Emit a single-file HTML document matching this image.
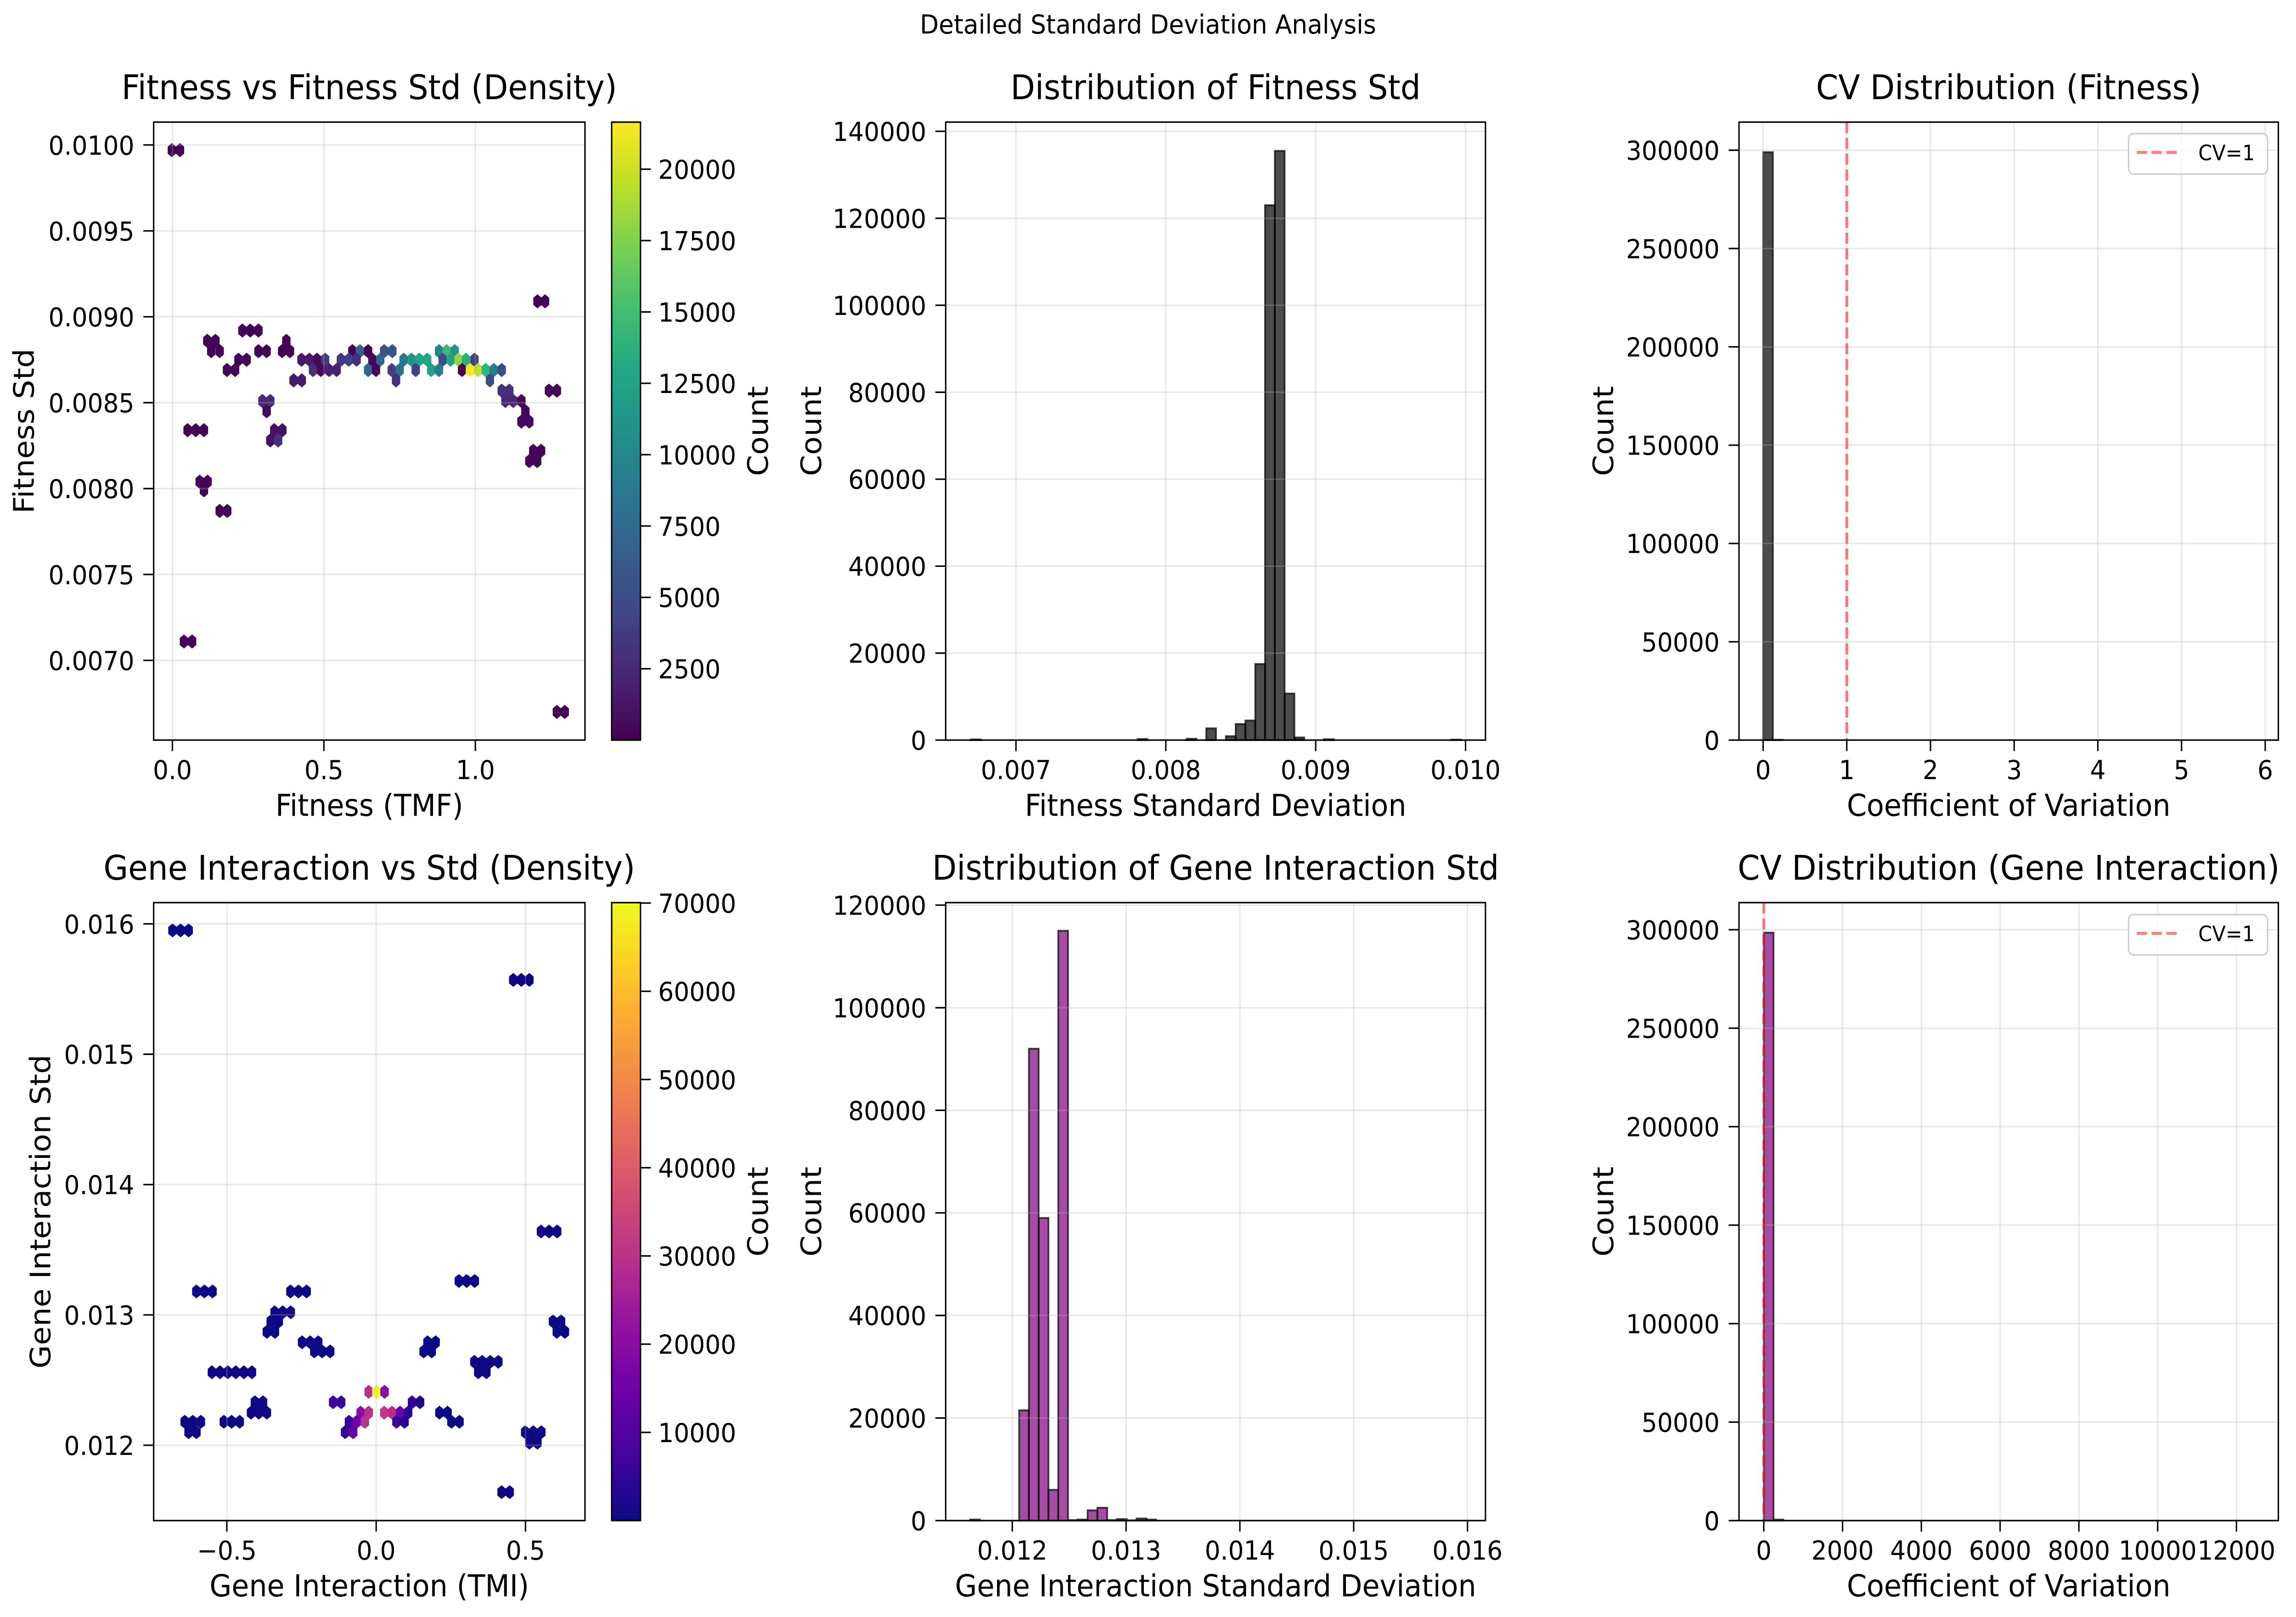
<!DOCTYPE html>
<html><head><meta charset="utf-8"><title>Detailed Standard Deviation Analysis</title>
<style>html,body{margin:0;padding:0;background:#fff;overflow:hidden;width:100%;height:100%}svg{display:block;width:100vw;height:100vh}text{font-family:"DejaVu Sans","Liberation Sans",sans-serif;fill:#000}</style>
</head><body>
<svg id="fig" xmlns="http://www.w3.org/2000/svg" viewBox="0 0 5334 3522" preserveAspectRatio="none">
<rect x="0" y="0" width="5334" height="3522" fill="#fff"/>
<text x="2667" y="73" font-size="57" text-anchor="middle">Detailed Standard Deviation Analysis</text>
<defs>
<linearGradient id="gViridis" x1="0" y1="1" x2="0" y2="0"></linearGradient>
<linearGradient id="gPlasma" x1="0" y1="1" x2="0" y2="0"></linearGradient>
</defs>
</svg>
<script>
// ---------- DATA ----------
// Panel 1: hexbin Fitness vs Fitness Std
const fitHexX = [-0.002,0.025, 1.205,1.230, 0.231,0.257,0.284, 0.115,0.142,0.376,
 0.128,0.156,0.284,0.311,0.362,0.388,0.594,0.619,0.646,0.699,0.726,0.880,0.905,0.932,
 0.218,0.245,0.426,0.452,0.477,0.504,0.556,0.582,0.608,0.660,0.686,0.763,0.789,0.815,0.841,0.892,0.918,0.944,0.969,0.997,
 0.180,0.207,0.464,0.490,0.517,0.542,0.646,0.672,0.724,0.750,0.803,0.854,0.880,0.956,0.982,1.009,1.034,1.061,1.087,
 0.400,0.427,0.738,1.048,
 1.087,1.112,1.243,1.269,
 0.297,0.323,1.099,1.125,1.152,
 0.311,1.165,
 1.152,1.178,
 0.050,0.077,0.104,0.336,0.363,
 0.323,0.349,
 1.191,1.217,
 1.178,1.204,
 0.090,0.116,
 0.104,
 0.156,0.181,
 0.038,0.065,
 1.269,1.295];
const fitHexY = [0.00997,0.00997, 0.00909,0.00909, 0.00892,0.00892,0.00892, 0.00886,0.00886,0.00886,
 0.00880,0.00880,0.00880,0.00880,0.00880,0.00880,0.00880,0.00880,0.00880,0.00880,0.00880,0.00880,0.00880,0.00880,
 0.00875,0.00875,0.00875,0.00875,0.00875,0.00875,0.00875,0.00875,0.00875,0.00875,0.00875,0.00875,0.00875,0.00875,0.00875,0.00875,0.00875,0.00875,0.00875,0.00875,
 0.00869,0.00869,0.00869,0.00869,0.00869,0.00869,0.00869,0.00869,0.00869,0.00869,0.00869,0.00869,0.00869,0.00869,0.00869,0.00869,0.00869,0.00869,0.00869,
 0.00863,0.00863,0.00863,0.00863,
 0.00857,0.00857,0.00857,0.00857,
 0.00851,0.00851,0.00851,0.00851,0.00851,
 0.00845,0.00845,
 0.00839,0.00839,
 0.00834,0.00834,0.00834,0.00834,0.00834,
 0.00828,0.00828,
 0.00822,0.00822,
 0.00816,0.00816,
 0.00804,0.00804,
 0.00799,
 0.00787,0.00787,
 0.00711,0.00711,
 0.00670,0.00670];
const fitHexC = [100,100, 100,100, 100,100,100, 100,100,100,
 100,100,100,100,100,100,100,6500,100,5500,5500,9500,14500,11000,
 100,100,1500,1500,500,3500,3500,4000,3000,500,7000,9000,11000,12500,12500,5000,12500,18000,13500,4000,
 100,100,3000,500,2000,2000,7000,500,4000,8000,4000,12500,9000,300,21500,19500,14000,9000,5000,
 1500,1500,3000,5000,
 3000,3000,100,100,
 2500,2500,2500,2500,500,
 500,500,
 500,500,
 100,100,100,1000,1000,
 1000,3000,
 300,300,
 300,300,
 300,300,
 100,
 100,100,
 100,100,
 100,100];
const fitXTicks = [0.0, 0.5, 1.0];
const fitXTickLabels = ["0.0","0.5","1.0"];
const fitYTicks = [0.0070,0.0075,0.0080,0.0085,0.0090,0.0095,0.0100];
const fitYTickLabels = ["0.0070","0.0075","0.0080","0.0085","0.0090","0.0095","0.0100"];
const fitCbarTicks = [2500,5000,7500,10000,12500,15000,17500,20000];
const fitCbarTickLabels = ["2500","5000","7500","10000","12500","15000","17500","20000"];

// Panel 4: hexbin Gene Interaction vs Std
const tmiHexX = [-0.682,-0.655,-0.628, 0.459,0.486,0.513, 0.552,0.579,0.606, 0.277,0.303,0.330,
 -0.602,-0.575,-0.548,-0.287,-0.260,-0.233,
 -0.340,-0.313,-0.286,
 -0.353,-0.326,0.592,0.619,
 -0.366,-0.339,0.605,0.632,
 -0.248,-0.221,-0.194,0.172,0.199,
 -0.207,-0.181,-0.154,0.159,0.186,
 0.329,0.355,0.382,0.409,
 -0.550,-0.523,-0.497,-0.470,-0.443,-0.416,0.342,0.369,
 -0.025,0.001,0.028,
 -0.144,-0.117,0.120,0.147,-0.406,-0.379,
 -0.052,-0.025,0.027,0.053,0.080,0.107,0.212,0.239,-0.419,-0.393,-0.366,
 -0.641,-0.614,-0.587,-0.510,-0.484,-0.457,-0.091,-0.065,-0.038,0.068,0.095,0.252,0.279,
 -0.628,-0.602,-0.104,-0.077,0.499,0.526,0.553,
 0.513,0.540,
 0.420,0.447];
const tmiHexY = [0.01595,0.01595,0.01595, 0.01557,0.01557,0.01557, 0.01364,0.01364,0.01364, 0.01326,0.01326,0.01326,
 0.01318,0.01318,0.01318,0.01318,0.01318,0.01318,
 0.01302,0.01302,0.01302,
 0.01295,0.01295,0.01295,0.01295,
 0.01287,0.01287,0.01287,0.01287,
 0.01279,0.01279,0.01279,0.01279,0.01279,
 0.01272,0.01272,0.01272,0.01272,0.01272,
 0.01264,0.01264,0.01264,0.01264,
 0.01256,0.01256,0.01256,0.01256,0.01256,0.01256,0.01256,0.01256,
 0.01241,0.01241,0.01241,
 0.01233,0.01233,0.01233,0.01233,0.01233,0.01233,
 0.01225,0.01225,0.01225,0.01225,0.01225,0.01225,0.01225,0.01225,0.01225,0.01225,0.01225,
 0.01218,0.01218,0.01218,0.01218,0.01218,0.01218,0.01218,0.01218,0.01218,0.01218,0.01218,0.01218,0.01218,
 0.01210,0.01210,0.01210,0.01210,0.01210,0.01210,0.01210,
 0.01202,0.01202,
 0.01164,0.01164];
const tmiHexC = [100,100,100, 100,100,100, 100,100,100, 100,100,100,
 100,100,100,100,100,100,
 100,100,100,
 100,100,100,100,
 100,100,100,100,
 100,100,100,100,100,
 100,100,100,100,100,
 100,100,100,100,
 100,100,100,100,100,100,100,100,
 30000,70000,21000,
 6000,6000,5000,3000,100,100,
 20000,30000,32000,29000,14000,4000,100,100,100,100,100,
 100,100,100,100,100,100,6000,15000,30000,6000,4000,100,100,
 100,100,5000,14000,100,100,100,
 100,100,
 100,100];
const tmiXTicks = [-0.5, 0.0, 0.5];
const tmiXTickLabels = ["\u22120.5","0.0","0.5"];
const tmiYTicks = [0.012,0.013,0.014,0.015,0.016];
const tmiYTickLabels = ["0.012","0.013","0.014","0.015","0.016"];
const tmiCbarTicks = [10000,20000,30000,40000,50000,60000,70000];
const tmiCbarTickLabels = ["10000","20000","30000","40000","50000","60000","70000"];

// Panel 2: histogram of fitness std
const fitStdBinStart = 0.00670;
const fitStdBinWidth = 0.0000654;
const fitStdCounts = [150,0,0,0,0,0,0,0,0,0, 0,0,0,0,0,0,0,250,0,0, 0,0,300,0,2700,0,900,3700,4500,17500,
 123000,135500,10700,600,0,0,200,0,0,0, 0,0,0,0,0,0,0,0,0,100];
const fitStdXTicks = [0.007,0.008,0.009,0.010];
const fitStdXTickLabels = ["0.007","0.008","0.009","0.010"];
const fitStdYTicks = [0,20000,40000,60000,80000,100000,120000,140000];
const fitStdYTickLabels = ["0","20000","40000","60000","80000","100000","120000","140000"];

// Panel 5: histogram of gene interaction std
const tmiStdBinStart = 0.01163;
const tmiStdBinWidth = 0.000086;
const tmiStdCounts = [200,0,0,0,0,21500,92000,59000,6000,115000, 100,200,2000,2500,100,300,50,400,200,0,
 0,0,0,0,0,0,0,0,0,0, 0,0,0,0,0,0,0,0,0,0, 0,0,0,0,0,0,0,0,0,0];
const tmiStdXTicks = [0.012,0.013,0.014,0.015,0.016];
const tmiStdXTickLabels = ["0.012","0.013","0.014","0.015","0.016"];
const tmiStdYTicks = [0,20000,40000,60000,80000,100000,120000];
const tmiStdYTickLabels = ["0","20000","40000","60000","80000","100000","120000"];

// Panel 3: CV fitness
const cvFitBinStart = 0;
const cvFitBinWidth = 0.117;
const cvFitCounts = [299000,150,0,0,0,0,0,0,0,0, 0,0,0,0,0,0,0,0,0,0, 0,0,0,0,0,0,0,0,0,0, 0,0,0,0,0,0,0,0,0,0, 0,0,0,0,0,0,0,0,0,0];
const cvFitXTicks = [0,1,2,3,4,5,6];
const cvFitXTickLabels = ["0","1","2","3","4","5","6"];
const cvYTicks = [0,50000,100000,150000,200000,250000,300000];
const cvYTickLabels = ["0","50000","100000","150000","200000","250000","300000"];
const cvRefLine = [1];

// Panel 6: CV gene interaction
const cvTmiBinStart = 0;
const cvTmiBinWidth = 248;
const cvTmiCounts = [298500,500,0,0,0,0,0,0,0,0, 0,0,0,0,0,0,0,0,0,0, 0,0,0,0,0,0,0,0,0,0, 0,0,0,0,0,0,0,0,0,0, 0,0,0,0,0,0,0,0,0,0];
const cvTmiXTicks = [0,2000,4000,6000,8000,10000,12000];
const cvTmiXTickLabels = ["0","2000","4000","6000","8000","10000","12000"];

// ---------- RENDER ----------
const NS = 'http://www.w3.org/2000/svg';
const svg = document.getElementById('fig');
function mk(tag, attrs, parent) {
  const e = document.createElementNS(NS, tag);
  for (const k in attrs) e.setAttribute(k, attrs[k]);
  (parent || svg).appendChild(e);
  return e;
}
function lin(d0, d1, r0, r1) { return v => r0 + (v - d0) / (d1 - d0) * (r1 - r0); }

const VIR = ['#440154','#482475','#414487','#355f8d','#2a788e','#21918c','#22a884','#44bf70','#7ad151','#bddf26','#fde725'];
const PLA = ['#0d0887','#41049d','#6a00a8','#8f0da4','#b12a90','#cc4778','#e16462','#f2844b','#fca636','#fcce25','#f0f921'];
function hex2rgb(h){return [parseInt(h.substr(1,2),16),parseInt(h.substr(3,2),16),parseInt(h.substr(5,2),16)];}
function cmap(stops, t) {
  t = Math.max(0, Math.min(1, t));
  const p = t * (stops.length - 1), i = Math.min(Math.floor(p), stops.length - 2), f = p - i;
  const a = hex2rgb(stops[i]), b = hex2rgb(stops[i + 1]);
  return 'rgb(' + a.map((v, k) => Math.round(v + (b[k] - v) * f)).join(',') + ')';
}
[['gViridis', VIR], ['gPlasma', PLA]].forEach(([id, st]) => {
  const g = document.getElementById(id);
  st.forEach((c, i) => { mk('stop', {offset: (i / (st.length - 1) * 100) + '%', 'stop-color': c}, g); });
});

const TICK = 57, LAB = 66, TIT = 74;

function axesFrame(a, name) {
  const g = mk('g', {});
  
  
  return g;
}
function drawGrid(g, a, sx, sy) {
  a.xticks.forEach(v => {
    const x = sx(v);
    const l = mk('line', {x1: x, x2: x, y1: a.T, y2: a.B, stroke: '#b0b0b0', 'stroke-opacity': 0.3, 'stroke-width': 3.3}, g);
    
    
  });
  a.yticks.forEach(v => {
    const y = sy(v);
    const l = mk('line', {x1: a.L, x2: a.R, y1: y, y2: y, stroke: '#b0b0b0', 'stroke-opacity': 0.3, 'stroke-width': 3.3}, g);
    
    
  });
}
function drawAxisDecor(g, a, sx, sy) {
  const fr = mk('rect', {x: a.L, y: a.T, width: a.R - a.L, height: a.B - a.T, fill: 'none', stroke: '#000', 'stroke-width': 3.3}, g);
  
  
  a.xticks.forEach((v, i) => {
    const x = sx(v);
    const t = mk('line', {x1: x, x2: x, y1: a.B, y2: a.B + 24, stroke: '#000', 'stroke-width': 3.3}, g);
    
    
    const tl = mk('text', {x: x, y: a.B + 85, 'font-size': TICK, 'text-anchor': 'middle'}, g);
    tl.textContent = a.xlabels[i];
    
    
  });
  a.yticks.forEach((v, i) => {
    const y = sy(v);
    const t = mk('line', {x1: a.L - 24, x2: a.L, y1: y, y2: y, stroke: '#000', 'stroke-width': 3.3}, g);
    
    
    const tl = mk('text', {x: a.L - 45, y: y + 21, 'font-size': TICK, 'text-anchor': 'end'}, g);
    tl.textContent = a.ylabels[i];
    
    
  });
  const ti = mk('text', {x: (a.L + a.R) / 2, y: a.T - 50, 'font-size': TIT, 'text-anchor': 'middle'}, g);
  ti.textContent = a.title;
  
  
  const xl = mk('text', {x: (a.L + a.R) / 2, y: a.B + 165, 'font-size': LAB, 'text-anchor': 'middle'}, g);
  xl.textContent = a.xtitle;
  
  
  const cy = (a.T + a.B) / 2;
  const yl = mk('text', {x: a.ylx, y: cy, 'font-size': LAB, 'text-anchor': 'middle', 'dominant-baseline': 'central', transform: 'rotate(-90 ' + a.ylx + ' ' + cy + ')'}, g);
  yl.textContent = a.ytitle;
  
  
}
function hexbinPanel(a, X, Y, C, stops, vmin, vmax, hsx, hsy, name) {
  const g = axesFrame(a, name);
  const sx = lin(a.xmin, a.xmax, a.L, a.R), sy = lin(a.ymin, a.ymax, a.B, a.T);
  const clip = mk('clipPath', {id: name + '-clip'}, g);
  mk('rect', {x: a.L, y: a.T, width: a.R - a.L, height: a.B - a.T}, clip);
  const hg = mk('g', {'clip-path': 'url(#' + name + '-clip)'}, g);
  for (let i = 0; i < X.length; i++) {
    const cx = X[i], cy = Y[i];
    const pts = [[cx + hsx / 2, cy - hsy / 6], [cx + hsx / 2, cy + hsy / 6], [cx, cy + hsy / 3],
                 [cx - hsx / 2, cy + hsy / 6], [cx - hsx / 2, cy - hsy / 6], [cx, cy - hsy / 3]]
      .map(p => sx(p[0]).toFixed(1) + ',' + sy(p[1]).toFixed(1)).join(' ');
    const col = cmap(stops, (C[i] - vmin) / (vmax - vmin));
    const h = mk('polygon', {points: pts, fill: col, stroke: col, 'stroke-width': 1}, hg);
    
    
  }
  drawGrid(g, a, sx, sy);
  drawAxisDecor(g, a, sx, sy);
  return g;
}
function colorbar(cb, grad, vmin, vmax, ticks, labels, name) {
  const g = mk('g', {});
  
  
  const sy = lin(vmin, vmax, cb.B, cb.T);
  const r = mk('rect', {x: cb.L, y: cb.T, width: cb.R - cb.L, height: cb.B - cb.T, fill: 'url(#' + grad + ')', stroke: '#000', 'stroke-width': 3.3}, g);
  
  
  ticks.forEach((v, i) => {
    const y = sy(v);
    const t = mk('line', {x1: cb.R, x2: cb.R + 24, y1: y, y2: y, stroke: '#000', 'stroke-width': 3.3}, g);
    
    
    const tl = mk('text', {x: cb.R + 41, y: y + 21, 'font-size': TICK}, g);
    tl.textContent = labels[i];
    
    
  });
  const cy = (cb.T + cb.B) / 2;
  const l = mk('text', {x: 1762, y: cy, 'font-size': LAB, 'text-anchor': 'middle', 'dominant-baseline': 'central', transform: 'rotate(-90 1762 ' + cy + ')'}, g);
  l.textContent = 'Count';
  
  
}
function histPanel(a, start, width, counts, fill, name) {
  const g = axesFrame(a, name);
  const sx = lin(a.xmin, a.xmax, a.L, a.R), sy = lin(a.ymin, a.ymax, a.B, a.T);
  for (let i = 0; i < counts.length; i++) {
    const x0 = sx(start + i * width), x1 = sx(start + (i + 1) * width), y = sy(counts[i]);
    const b = mk('rect', {x: x0, y: y, width: Math.max(0, x1 - x0), height: Math.max(0, a.B - y),
      fill: fill, 'fill-opacity': 0.7, stroke: '#000', 'stroke-opacity': 0.7, 'stroke-width': 4}, g);
    
    
  }
  drawGrid(g, a, sx, sy);
  return {g: g, sx: sx, sy: sy};
}
function cvLine(h, a, v) {
  const x = h.sx(v);
  const l = mk('line', {x1: x, x2: x, y1: a.T, y2: a.B, stroke: '#ff0000', 'stroke-opacity': 0.5, 'stroke-width': 6.5, 'stroke-dasharray': '24 10.4'}, h.g);
  
  
}
function legend(g, x, y) {
  const lg = mk('g', {}, g);
  
  
  mk('rect', {x: x, y: y, width: 323, height: 88, rx: 12, fill: '#fff', 'fill-opacity': 0.8, stroke: '#cccccc', 'stroke-width': 3.3}, lg);
  const s = mk('line', {x1: x + 19, x2: x + 120, y1: y + 41, y2: y + 41, stroke: '#ff0000', 'stroke-opacity': 0.5, 'stroke-width': 6.5, 'stroke-dasharray': '24 10.4'}, lg);
  
  
  const t = mk('text', {x: x + 162, y: y + 58, 'font-size': 46}, lg);
  t.textContent = 'CV=1';
  
  
}

// Panel 1
const A1 = {L: 357, R: 1359, T: 266, B: 1612, xmin: -0.0619, xmax: 1.3618, ymin: 0.006536, ymax: 0.010133,
  xticks: fitXTicks, xlabels: fitXTickLabels, yticks: fitYTicks, ylabels: fitYTickLabels,
  title: 'Fitness vs Fitness Std (Density)', xtitle: 'Fitness (TMF)', ytitle: 'Fitness Std', ylx: 57};
hexbinPanel(A1, fitHexX, fitHexY, fitHexC, VIR, 1, 21650, 0.02611, 0.0001182, 'fitness-hexbin');
colorbar({L: 1421, R: 1488, T: 266, B: 1612}, 'gViridis', 1, 21650, fitCbarTicks, fitCbarTickLabels, 'fitness-colorbar');

// Panel 4
const A4 = {L: 357, R: 1359, T: 1966, B: 3312, xmin: -0.745, xmax: 0.6992, ymin: 0.011422, ymax: 0.016163,
  xticks: tmiXTicks, xlabels: tmiXTickLabels, yticks: tmiYTicks, ylabels: tmiYTickLabels,
  title: 'Gene Interaction vs Std (Density)', xtitle: 'Gene Interaction (TMI)', ytitle: 'Gene Interaction Std', ylx: 95};
hexbinPanel(A4, tmiHexX, tmiHexY, tmiHexC, PLA, 1, 70050, 0.02691, 0.0001534, 'gene-interaction-hexbin');
colorbar({L: 1421, R: 1488, T: 1966, B: 3312}, 'gPlasma', 1, 70050, tmiCbarTicks, tmiCbarTickLabels, 'gene-interaction-colorbar');

// Panel 2
const A2 = {L: 2197, R: 3451, T: 266, B: 1612, xmin: 0.006531, xmax: 0.010133, ymin: 0, ymax: 142112,
  xticks: fitStdXTicks, xlabels: fitStdXTickLabels, yticks: fitStdYTicks, ylabels: fitStdYTickLabels,
  title: 'Distribution of Fitness Std', xtitle: 'Fitness Standard Deviation', ytitle: 'Count', ylx: 1886};
const H2 = histPanel(A2, fitStdBinStart, fitStdBinWidth, fitStdCounts, '#000000', 'fitness-std-histogram');
drawAxisDecor(H2.g, A2, H2.sx, H2.sy);

// Panel 5
const A5 = {L: 2197, R: 3451, T: 1966, B: 3312, xmin: 0.011415, xmax: 0.016158, ymin: 0, ymax: 120492,
  xticks: tmiStdXTicks, xlabels: tmiStdXTickLabels, yticks: tmiStdYTicks, ylabels: tmiStdYTickLabels,
  title: 'Distribution of Gene Interaction Std', xtitle: 'Gene Interaction Standard Deviation', ytitle: 'Count', ylx: 1886};
const H5 = histPanel(A5, tmiStdBinStart, tmiStdBinWidth, tmiStdCounts, '#800080', 'gene-interaction-std-histogram');
drawAxisDecor(H5.g, A5, H5.sx, H5.sy);

// Panel 3
const A3 = {L: 4040, R: 5293, T: 266, B: 1612, xmin: -0.288, xmax: 6.157, ymin: 0, ymax: 314290,
  xticks: cvFitXTicks, xlabels: cvFitXTickLabels, yticks: cvYTicks, ylabels: cvYTickLabels,
  title: 'CV Distribution (Fitness)', xtitle: 'Coefficient of Variation', ytitle: 'Count', ylx: 3726};
const H3 = histPanel(A3, cvFitBinStart, cvFitBinWidth, cvFitCounts, '#000000', 'cv-fitness-histogram');
cvLine(H3, A3, cvRefLine[0]);
drawAxisDecor(H3.g, A3, H3.sx, H3.sy);
legend(H3.g, 4945, 291);

// Panel 6
const A6 = {L: 4040, R: 5293, T: 1966, B: 3312, xmin: -629, xmax: 13064, ymin: 0, ymax: 313750,
  xticks: cvTmiXTicks, xlabels: cvTmiXTickLabels, yticks: cvYTicks, ylabels: cvYTickLabels,
  title: 'CV Distribution (Gene Interaction)', xtitle: 'Coefficient of Variation', ytitle: 'Count', ylx: 3726};
const H6 = histPanel(A6, cvTmiBinStart, cvTmiBinWidth, cvTmiCounts, '#800080', 'cv-gene-interaction-histogram');
cvLine(H6, A6, cvRefLine[0]);
drawAxisDecor(H6.g, A6, H6.sx, H6.sy);
legend(H6.g, 4945, 1992);
</script>
</body></html>
